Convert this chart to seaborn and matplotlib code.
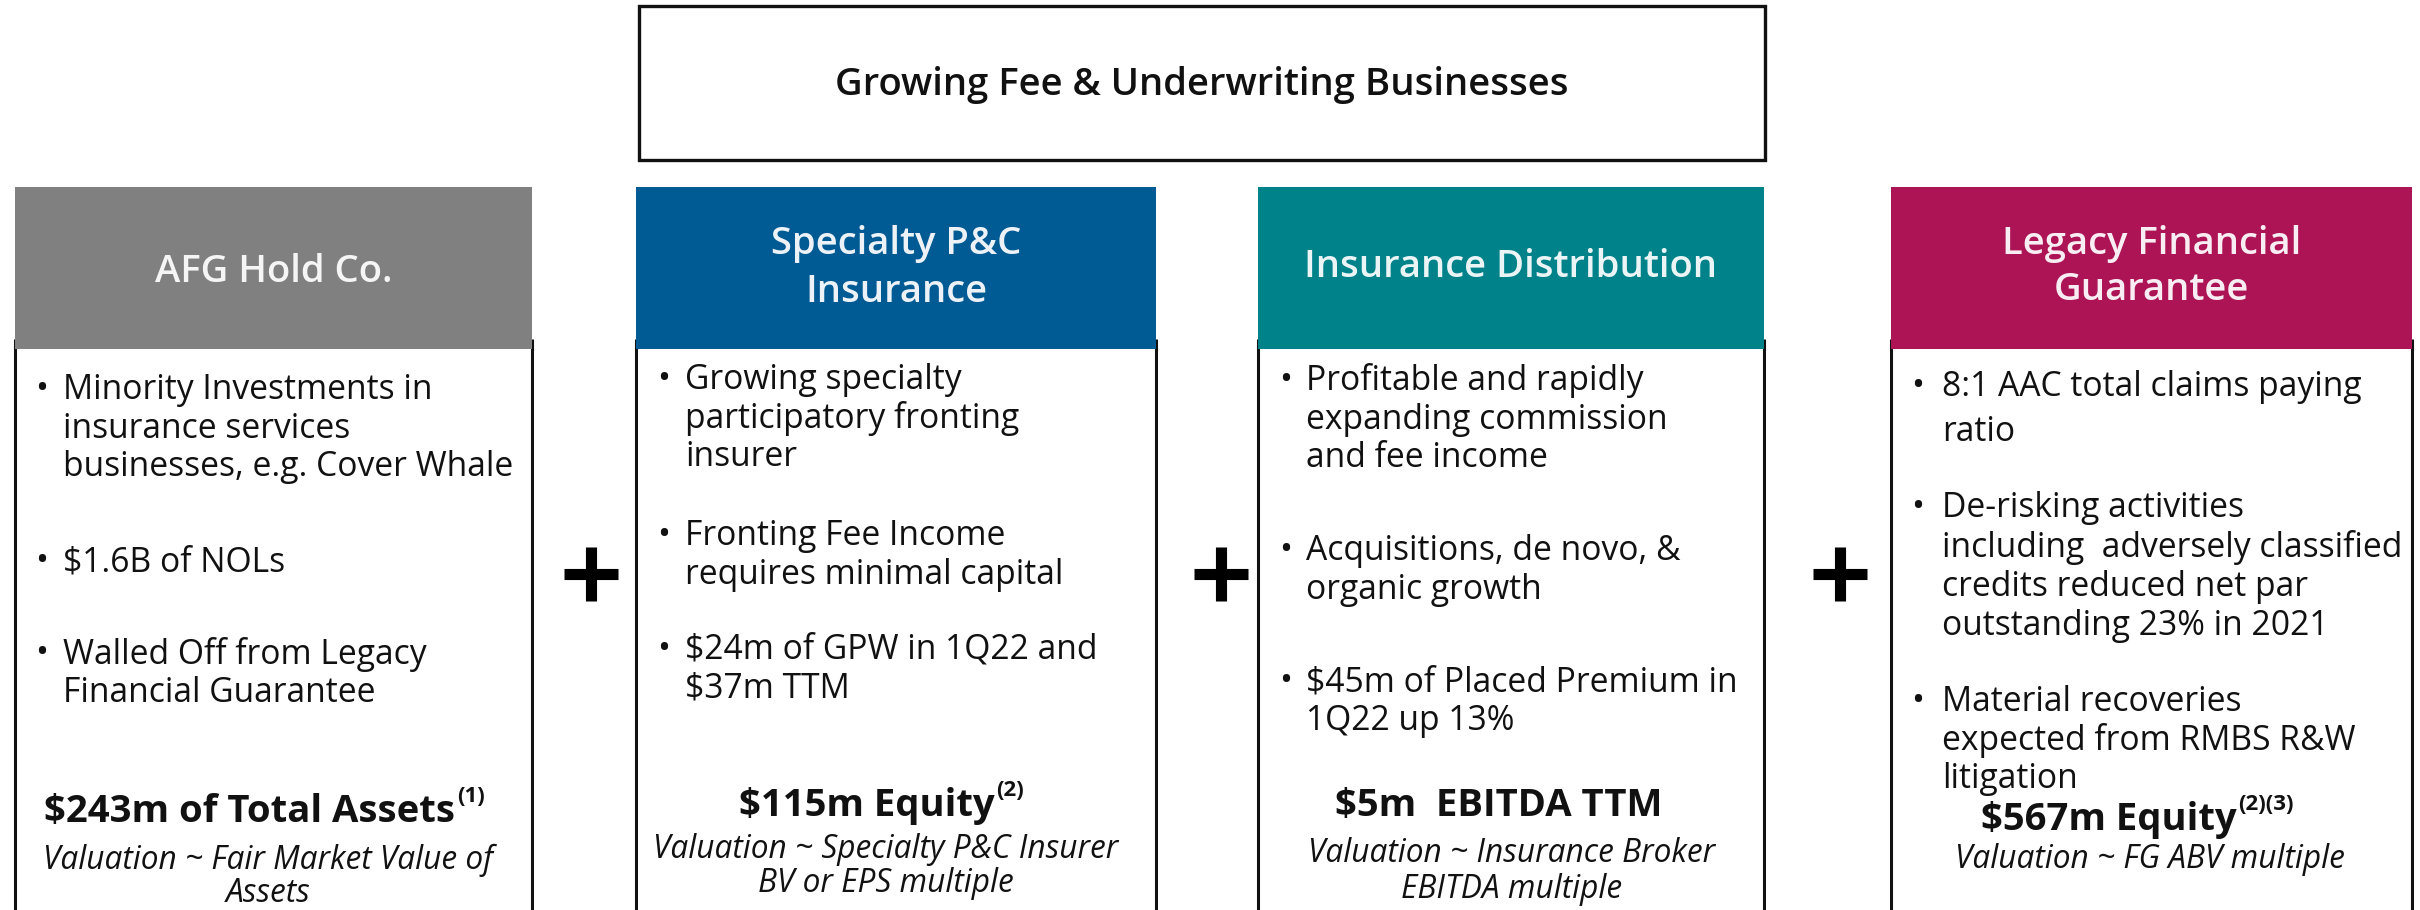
import matplotlib
matplotlib.use("Agg")
import matplotlib.pyplot as plt
import seaborn as sns

sns.set_theme(style="white")
plt.rcParams['font.family'] = ['Open Sans', 'DejaVu Sans']

# ---------------- data (text content) ----------------
banner = "Growing Fee & Underwriting Businesses"
segments = ["AFG Hold Co.", "Specialty P&C\nInsurance", "Insurance Distribution",
            "Legacy Financial\nGuarantee"]
header_colors = ["#808080", "#005A94", "#00828A", "#AD1456"]
bullets_afg = [["Minority Investments in", "insurance services", "businesses, e.g. Cover Whale"],
               ["$1.6B of NOLs"],
               ["Walled Off from Legacy", "Financial Guarantee"]]
bullets_pc = [["Growing specialty", "participatory fronting", "insurer"],
              ["Fronting Fee Income", "requires minimal capital"],
              ["$24m of GPW in 1Q22 and", "$37m TTM"]]
bullets_dist = [["Profitable and rapidly", "expanding commission", "and fee income"],
                ["Acquisitions, de novo, &", "organic growth"],
                ["$45m of Placed Premium in", "1Q22 up 13%"]]
bullets_fg = [["8:1 AAC total claims paying", "ratio"],
              ["De-risking activities", "including  adversely classified",
               "credits reduced net par", "outstanding 23% in 2021"],
              ["Material recoveries", "expected from RMBS R&W", "litigation"]]
bullets = [bullets_afg, bullets_pc, bullets_dist, bullets_fg]
metrics = ["$243m of Total Assets", "$115m Equity", "$5m  EBITDA TTM", "$567m Equity"]
footnotes = ["(1)", "(2)", "", "(2)(3)"]
valuations = [["Valuation ~ Fair Market Value of", "Assets"],
              ["Valuation ~ Specialty P&C Insurer", "BV or EPS multiple"],
              ["Valuation ~ Insurance Broker", "EBITDA multiple"],
              ["Valuation ~ FG ABV multiple"]]

# ---------------- layout (pixel canvas) ----------------
W, H = 2420, 910
banner_box = (639, 6, 1765, 160)
col_left = [15, 636, 1258, 1891]
col_right = [532, 1156, 1764, 2412]
head_top, head_bot = 187, 349
head_line_y = [[272], [244, 292], [267], [244, 290]]
bullet_x = [42, 664, 1286, 1918]
text_x = [63, 685, 1306, 1942]
bullet_first_y = [[390, 562, 654], [380, 536, 650], [381, 551, 682], [387, 508, 702]]
line_step = [[38.6, 38.6, 38.6], [38.6, 38.6, 38.6], [38.6, 38.6, 38.6], [44.8, 39.4, 38.6]]
metric_xy = [(250, 812), (867, 806), (1499, 806), (2109, 820)]
val_x = [268, 886, 1512, 2150]
val_y = [[860, 894], [849, 884], [854, 889], [860]]
plus_x = [591, 1221, 1840]
plus_y = 574
plus_half = 27

fig = plt.figure(figsize=(W / 100, H / 100), dpi=100)
ax = fig.add_axes([0, 0, 1, 1])
ax.set_xlim(0, W)
ax.set_ylim(H, 0)
ax.axis('off')

# banner
x0, y0, x1, y1 = banner_box
ax.add_patch(plt.Rectangle((x0, y0), x1 - x0, y1 - y0, facecolor='white',
                           edgecolor='#111111', lw=2.4))
ax.text((x0 + x1) / 2, (y0 + y1) / 2 + 2, banner, ha='center', va='center',
        fontsize=27.5, fontweight='semibold', color='#111111')

for i in range(4):
    L, R = col_left[i], col_right[i]
    cx = (L + R) / 2
    # body borders
    ax.plot([L, L], [head_bot - 10, H + 5], color='#111111', lw=2.2, solid_capstyle='butt')
    ax.plot([R, R], [head_bot - 10, H + 5], color='#111111', lw=2.2, solid_capstyle='butt')
    # header
    ax.add_patch(plt.Rectangle((L, head_top), R - L, head_bot - head_top,
                               facecolor=header_colors[i], edgecolor='none', zorder=3))
    for line, yy in zip(segments[i].split("\n"), head_line_y[i]):
        ax.text(cx, yy, line, ha='center', va='center', fontsize=27.5,
                fontweight='semibold', color='white', alpha=0.93, zorder=4)
    # bullets
    for b, y_first, step in zip(bullets[i], bullet_first_y[i], line_step[i]):
        ax.text(bullet_x[i], y_first, "•", ha='center', va='center', fontsize=25,
                color='#111111')
        for k, line in enumerate(b):
            ax.text(text_x[i], y_first + k * step, line, ha='left', va='center',
                    fontsize=24.2, color='#111111')
    # metric
    mx, my = metric_xy[i]
    t = ax.text(mx, my, metrics[i], ha='center', va='center', fontsize=27.5,
                fontweight='bold', color='#111111')
    if footnotes[i]:
        ax.annotate(footnotes[i], xy=(1.0, 1.0), xycoords=t, xytext=(1, 5),
                    textcoords='offset points', ha='left', va='top', fontsize=16,
                    fontweight='bold', color='#111111')
    # valuation
    for line, yy in zip(valuations[i], val_y[i]):
        ax.text(val_x[i], yy, line, ha='center', va='center', fontsize=22.8,
                fontstyle='italic', color='#111111')

# plus signs
for px in plus_x:
    ax.plot([px - plus_half, px + plus_half], [plus_y, plus_y], color='black', lw=8,
            solid_capstyle='butt')
    ax.plot([px, px], [plus_y - plus_half, plus_y + plus_half], color='black', lw=8,
            solid_capstyle='butt')

fig.savefig("out.png", dpi=100, facecolor='white')
